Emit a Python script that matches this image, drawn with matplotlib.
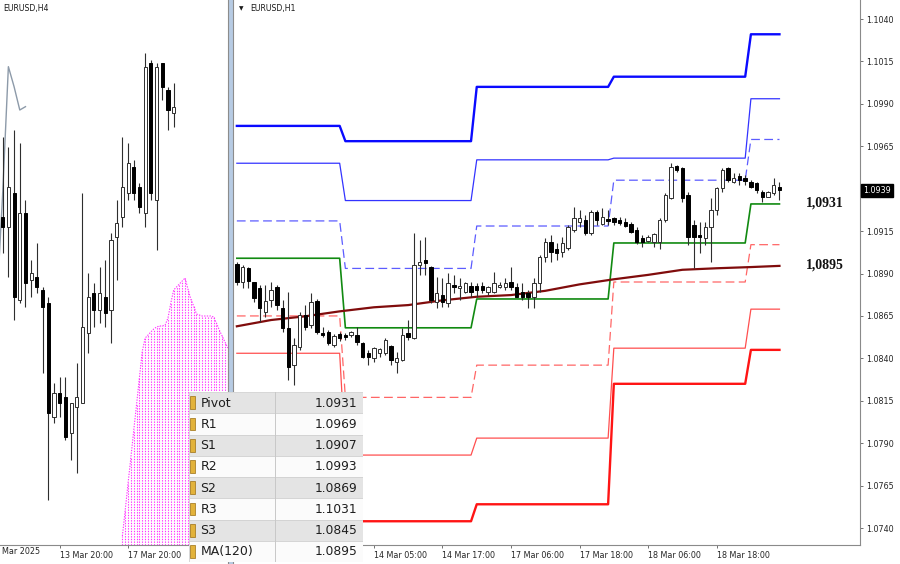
import numpy as np
import matplotlib
matplotlib.use("Agg")
from matplotlib import pyplot as plt
from matplotlib.patches import Rectangle

# ---------------- EURUSD H1 (right panel), bars 13 Mar 05:00 .. 19 Mar 05:00
h1_open = [1.08957, 1.08851, 1.08933, 1.08851, 1.08816, 1.08674, 1.08745, 1.08822, 1.08698, 1.08580,
           1.08362, 1.08468, 1.08657, 1.08598, 1.08739, 1.08551, 1.08557, 1.08480, 1.08545, 1.08539,
           1.08539, 1.08539, 1.08492, 1.08433, 1.08403, 1.08433, 1.08433, 1.08474, 1.08380, 1.08392,
           1.08551, 1.08521, 1.08951, 1.08981, 1.08939, 1.08733, 1.08774, 1.08727, 1.08833, 1.08816,
           1.08792, 1.08828, 1.08828, 1.08828, 1.08792, 1.08792, 1.08822, 1.08822, 1.08851, 1.08822,
           1.08792, 1.08786, 1.08763, 1.08845, 1.08998, 1.09087, 1.09046, 1.09028, 1.09051, 1.09157,
           1.09205, 1.09216, 1.09140, 1.09263, 1.09193, 1.09222, 1.09228, 1.09216, 1.09205, 1.09193,
           1.09157, 1.09110, 1.09092, 1.09087, 1.09087, 1.09216, 1.09346, 1.09534, 1.09523, 1.09363,
           1.09187, 1.09128, 1.09110, 1.09175, 1.09275, 1.09405, 1.09523, 1.09440, 1.09476, 1.09464,
           1.09440, 1.09434, 1.09381, 1.09352, 1.09375, 1.09411]
h1_high = [1.08969, 1.08951, 1.08939, 1.08851, 1.08833, 1.08833, 1.08851, 1.08833, 1.08745, 1.08792,
           1.08521, 1.08674, 1.08716, 1.08786, 1.08751, 1.08586, 1.08568, 1.08545, 1.08557, 1.08551,
           1.08563, 1.08586, 1.08498, 1.08450, 1.08468, 1.08462, 1.08521, 1.08480, 1.08439, 1.08580,
           1.08627, 1.09140, 1.09098, 1.09116, 1.08945, 1.08880, 1.08875, 1.08904, 1.08892, 1.08875,
           1.08851, 1.08851, 1.08845, 1.08851, 1.08828, 1.08910, 1.08851, 1.08875, 1.08939, 1.08845,
           1.08845, 1.08804, 1.08875, 1.09010, 1.09110, 1.09128, 1.09081, 1.09116, 1.09187, 1.09293,
           1.09275, 1.09246, 1.09275, 1.09275, 1.09287, 1.09275, 1.09234, 1.09234, 1.09228, 1.09205,
           1.09175, 1.09128, 1.09128, 1.09140, 1.09228, 1.09375, 1.09552, 1.09540, 1.09528, 1.09381,
           1.09216, 1.09204, 1.09204, 1.09346, 1.09411, 1.09523, 1.09528, 1.09493, 1.09493, 1.09481,
           1.09452, 1.09440, 1.09393, 1.09387, 1.09464, 1.09440]
h1_low = [1.08833, 1.08816, 1.08816, 1.08733, 1.08615, 1.08645, 1.08704, 1.08686, 1.08557, 1.08274,
          1.08244, 1.08450, 1.08568, 1.08580, 1.08545, 1.08527, 1.08480, 1.08468, 1.08504, 1.08510,
          1.08527, 1.08480, 1.08403, 1.08362, 1.08380, 1.08409, 1.08421, 1.08362, 1.08315, 1.08386,
          1.08510, 1.08515, 1.08892, 1.08892, 1.08727, 1.08698, 1.08704, 1.08704, 1.08786, 1.08745,
          1.08786, 1.08763, 1.08763, 1.08786, 1.08774, 1.08786, 1.08816, 1.08804, 1.08804, 1.08763,
          1.08745, 1.08698, 1.08698, 1.08792, 1.08969, 1.08969, 1.08981, 1.08998, 1.09040, 1.09145,
          1.09175, 1.09128, 1.09128, 1.09187, 1.09187, 1.09187, 1.09187, 1.09187, 1.09175, 1.09140,
          1.09075, 1.09057, 1.09087, 1.09057, 1.09046, 1.09205, 1.09340, 1.09499, 1.09322, 1.09069,
          1.08934, 1.09022, 1.09069, 1.08969, 1.09245, 1.09381, 1.09440, 1.09434, 1.09422, 1.09422,
          1.09405, 1.09375, 1.09322, 1.09352, 1.09363, 1.09333]
h1_close = [1.08851, 1.08939, 1.08857, 1.08757, 1.08698, 1.08739, 1.08804, 1.08716, 1.08580, 1.08350,
            1.08480, 1.08657, 1.08586, 1.08733, 1.08557, 1.08539, 1.08492, 1.08533, 1.08521, 1.08527,
            1.08557, 1.08498, 1.08409, 1.08409, 1.08462, 1.08456, 1.08510, 1.08392, 1.08403, 1.08539,
            1.08527, 1.08951, 1.08969, 1.08963, 1.08745, 1.08786, 1.08733, 1.08845, 1.08822, 1.08828,
            1.08845, 1.08792, 1.08804, 1.08804, 1.08822, 1.08845, 1.08833, 1.08845, 1.08822, 1.08763,
            1.08763, 1.08763, 1.08845, 1.08998, 1.09087, 1.09028, 1.09022, 1.09081, 1.09175, 1.09228,
            1.09228, 1.09140, 1.09263, 1.09216, 1.09234, 1.09210, 1.09205, 1.09199, 1.09181, 1.09145,
            1.09087, 1.09087, 1.09116, 1.09134, 1.09216, 1.09363, 1.09528, 1.09511, 1.09346, 1.09116,
            1.09116, 1.09116, 1.09175, 1.09275, 1.09405, 1.09511, 1.09452, 1.09464, 1.09452, 1.09446,
            1.09411, 1.09393, 1.09352, 1.09381, 1.09422, 1.09393]

# daily levels for 13, 14, 17, 18, 19 Mar and number of H1 bars in each day
day_bars = [19, 23, 24, 24, 6]
lvl_r3 = [1.0977, 1.0968, 1.1000, 1.1006, 1.1031]
lvl_r2 = [1.0955, 1.0933, 1.0957, 1.0958, 1.0993]
lvl_r1 = [1.0921, 1.0893, 1.0918, 1.0945, 1.0969]
lvl_pivot = [1.0899, 1.0858, 1.0875, 1.0908, 1.0931]
lvl_s1 = [1.0865, 1.0817, 1.0836, 1.0885, 1.0907]
lvl_s2 = [1.0843, 1.0783, 1.0793, 1.0846, 1.0869]
lvl_s3 = [1.0814, 1.0744, 1.0754, 1.0825, 1.0845]

ma_bar = [0, 6, 12, 18, 24, 30, 36, 42, 48, 54, 60, 66, 72, 78, 84, 90, 95]
ma120 = [1.08589, 1.08626, 1.08648, 1.08677, 1.08701, 1.08714, 1.08742, 1.08763, 1.08773,
         1.08798, 1.08836, 1.08866, 1.08892, 1.08922, 1.08931, 1.08938, 1.08945]

h1_ticks = [24, 36, 48, 60, 72, 84]
h1_tick_labels = ['14 Mar 05:00', '14 Mar 17:00', '17 Mar 06:00',
                  '17 Mar 18:00', '18 Mar 06:00', '18 Mar 18:00']
h1_yticks = [1.0740, 1.0765, 1.0790, 1.0815, 1.0840, 1.0865, 1.0890, 1.0915,
             1.0965, 1.0990, 1.1015, 1.1040]
last_price = 1.0939

# ---------------- EURUSD H4 (left panel)
h4_open = [1.0905, 1.0902, 1.0912, 1.0880, 1.0906, 1.0886, 1.0887, 1.0883, 1.0879, 1.0845,
           1.0852, 1.0851, 1.0840, 1.0848, 1.0849, 1.0870, 1.0882, 1.0877, 1.0881, 1.0877,
           1.0899, 1.0905, 1.0912, 1.0920, 1.0914, 1.0906, 1.0951, 1.0910, 1.0951, 1.0943, 1.0936]
h4_high = [1.0929, 1.0926, 1.0931, 1.0927, 1.0910, 1.0892, 1.0897, 1.0884, 1.0881, 1.0855,
           1.0857, 1.0857, 1.0849, 1.0861, 1.0912, 1.0888, 1.0885, 1.0890, 1.0892, 1.0900,
           1.0910, 1.0929, 1.0927, 1.0922, 1.0915, 1.0954, 1.0952, 1.0951, 1.0951, 1.0944, 1.0945]
h4_low = [1.0894, 1.0887, 1.0874, 1.0879, 1.0878, 1.0881, 1.0882, 1.0858, 1.0820, 1.0843,
          1.0845, 1.0838, 1.0832, 1.0828, 1.0849, 1.0864, 1.0872, 1.0873, 1.0872, 1.0867,
          1.0886, 1.0902, 1.0910, 1.0910, 1.0906, 1.0902, 1.0910, 1.0895, 1.0940, 1.0931, 1.0932]
h4_close = [1.0902, 1.0914, 1.0881, 1.0906, 1.0885, 1.0888, 1.0884, 1.0878, 1.0846, 1.0852,
            1.0849, 1.0839, 1.0849, 1.0851, 1.0872, 1.0881, 1.0877, 1.0882, 1.0876, 1.0898,
            1.0903, 1.0914, 1.0921, 1.0912, 1.0908, 1.0950, 1.0912, 1.0950, 1.0944, 1.0937, 1.0938]
h4_chikou = [1.0912, 1.0950, 1.0944, 1.0937, 1.0938]
h4_cloud_top = [1.08092, 1.0817, 1.08251, 1.08329, 1.0841, 1.08488, 1.08569, 1.08647, 1.08686,
                1.08695, 1.08704, 1.08713, 1.08719, 1.08722, 1.08722, 1.08725, 1.08746, 1.08791,
                1.0883, 1.08839, 1.08848, 1.08857, 1.08866, 1.08833, 1.08803, 1.08782, 1.08758,
                1.08755, 1.08752, 1.08752, 1.08752, 1.08752, 1.08749, 1.08731, 1.0871, 1.08692,
                1.08674, 1.08656]
h4_ticks = [10, 22]
h4_tick_labels = ['13 Mar 20:00', '17 Mar 20:00']

table_names = ['Pivot', 'R1', 'S1', 'R2', 'S2', 'R3', 'S3', 'MA(120)']
table_values = ['1.0931', '1.0969', '1.0907', '1.0993', '1.0869', '1.1031', '1.0845', '1.0895']

W, H = 900, 564
FONT = 'DejaVu Sans'
TXT = '#262626'


def draw_candles(ax, o, h, l, c, width, min_body):
    o, h, l, c = map(np.asarray, (o, h, l, c))
    x = np.arange(len(o))
    up = c >= o
    body = np.maximum(np.abs(c - o), min_body)
    ax.vlines(x, l, h, color='#2e2e2e', lw=0.8, zorder=4)
    ax.bar(x[up], body[up], bottom=o[up], width=width, color='white',
           edgecolor='#2e2e2e', lw=0.7, zorder=5)
    ax.bar(x[~up], body[~up], bottom=c[~up], width=width, color='black',
           edgecolor='black', lw=0.7, zorder=5)


fig = plt.figure(figsize=(W / 100, H / 100), dpi=100)
fig.patch.set_facecolor('white')

# ---------------- left panel (H4)
ax_l = fig.add_axes([0, 19 / H, 228 / W, 545 / H])
ax_l.set_xlim(-0.47, 39.53)
ax_l.set_ylim(1.08065, 1.0970)
cloud_pos = np.arange(21, 40, 0.5)
bottom_l = ax_l.get_ylim()[0]
ax_l.vlines(cloud_pos, bottom_l, h4_cloud_top, color='#ff33ff', lw=0.8,
            linestyles=[(0, (1.2, 1.2))], zorder=2)
ax_l.plot(cloud_pos, h4_cloud_top, color='#ff33ff', lw=0.8, ls=(0, (1.2, 1.2)), zorder=2)
ax_l.plot(np.arange(len(h4_chikou)), h4_chikou, color='#8d9aa9', lw=1.0, zorder=3)
ax_l.plot([-1, 0], [1.0880, h4_chikou[0]], color='#8d9aa9', lw=1.0, zorder=3)
draw_candles(ax_l, h4_open, h4_high, h4_low, h4_close, 0.55, 0.00003)
for s in ['top', 'left', 'right']:
    ax_l.spines[s].set_visible(False)
ax_l.spines['bottom'].set_color('#8a8a8a')
ax_l.spines['bottom'].set_linewidth(0.8)
ax_l.set_yticks([])
ax_l.set_xticks(h4_ticks, h4_tick_labels)
ax_l.tick_params(axis='x', direction='out', length=2.5, width=0.7, color='#707070',
                 pad=1.5, labelsize=5.8, labelcolor=TXT)
for lab in ax_l.get_xticklabels():
    lab.set_ha('left')
    lab.set_fontfamily(FONT)
ax_l.text(0.013, 0.985, 'EURUSD,H4', transform=ax_l.transAxes, fontsize=5.6,
          family=FONT, color='#1a1a1a', va='center', ha='left')
fig.text(2 / W, 12 / H, 'Mar 2025', fontsize=5.8, family=FONT, color=TXT,
         va='center', ha='left')

# separator between the two charts
fig.patches.append(Rectangle((227.5 / W, 0), 6 / W, 1, transform=fig.transFigure,
                             facecolor='#b7cbe3', edgecolor='none', zorder=1))
fig.add_artist(plt.Line2D([227.5 / W, 227.5 / W], [0, 1], color='#8c8c8c', lw=0.8))
fig.add_artist(plt.Line2D([233.5 / W, 233.5 / W], [0, 1], color='#8c8c8c', lw=0.8))

# ---------------- right panel (H1)
ax = fig.add_axes([234 / W, 19 / H, 626 / W, 545 / H])
ax.set_xlim(-0.5, 109.1)
ax.set_ylim(1.0730, 1.10512)
bars = np.arange(len(h1_open))
lines = [
    (lvl_r3, '#0a0aff', 1.7, '-'),
    (lvl_r2, '#3333ff', 0.9, '-'),
    (lvl_r1, '#5c5cff', 0.9, (0, (7, 3.5))),
    (lvl_pivot, '#118a11', 1.2, '-'),
    (lvl_s1, '#ff6666', 0.9, (0, (7, 3.5))),
    (lvl_s2, '#ff4f4f', 0.9, '-'),
    (lvl_s3, '#ff1414', 1.7, '-'),
]
for vals, col, lw, ls in lines:
    ax.plot(bars, np.repeat(vals, day_bars), color=col, lw=lw, ls=ls, zorder=2)
ax.plot(ma_bar, ma120, color='#800c0c', lw=1.6, zorder=3)
draw_candles(ax, h1_open, h1_high, h1_low, h1_close, 0.6, 0.00006)

for s in ['top', 'left']:
    ax.spines[s].set_visible(False)
for s in ['right', 'bottom']:
    ax.spines[s].set_color('#8a8a8a')
    ax.spines[s].set_linewidth(0.8)
ax.yaxis.tick_right()
ax.set_yticks(h1_yticks, [f'{v:.4f}' for v in h1_yticks])
ax.set_xticks(h1_ticks, h1_tick_labels)
ax.tick_params(axis='both', direction='out', length=2.5, width=0.7, color='#707070',
               labelsize=5.8, labelcolor=TXT)
ax.tick_params(axis='y', pad=1.8)
ax.tick_params(axis='x', pad=1.5)
for lab in ax.get_xticklabels():
    lab.set_ha('left')
for lab in ax.get_xticklabels() + ax.get_yticklabels():
    lab.set_fontfamily(FONT)

ax.text(1.0055, last_price, f'{last_price:.4f}', transform=ax.get_yaxis_transform(),
        fontsize=5.8, family=FONT, color='white', va='center', ha='left',
        bbox=dict(boxstyle='square,pad=0.25', facecolor='black', edgecolor='black'))

ax.text(0.008, 0.9835, '\u25bc', transform=ax.transAxes, fontsize=4.2, family=FONT,
        color='#1a1a1a', va='center', ha='left')
ax.text(0.026, 0.9835, 'EURUSD,H1', transform=ax.transAxes, fontsize=5.6, family=FONT,
        color='#1a1a1a', va='center', ha='left')

ax.text(99.6, lvl_pivot[-1] + 0.00006, '1,0931', fontsize=10, fontweight='bold',
        family='Liberation Serif', color='#111111', va='center', ha='left')
ax.text(99.6, ma120[-1] + 0.00008, '1,0895', fontsize=10, fontweight='bold',
        family='Liberation Serif', color='#111111', va='center', ha='left')

# ---------------- levels table
ax_t = fig.add_axes([189 / W, 2 / H, 174 / W, 170 / H])
ax_t.set_zorder(10)
ax_t.set_xlim(0, 1)
ax_t.set_ylim(len(table_names), 0)
ax_t.axis('off')
ax_t.add_patch(Rectangle((0, 0), 1, len(table_names), facecolor='white', edgecolor='none'))
for k, (name, val) in enumerate(zip(table_names, table_values)):
    shade = '#e4e4e4' if k % 2 == 0 else '#fbfbfb'
    ax_t.add_patch(Rectangle((0, k), 1, 1, facecolor=shade, edgecolor='#d2d2d2', lw=0.6))
    ax_t.add_patch(Rectangle((0.005, k + 0.2), 0.03, 0.6, facecolor='#e2b23a',
                             edgecolor='#9c6f12', lw=0.5))
    ax_t.text(0.066, k + 0.52, name, fontsize=9, family=FONT, color='#1e1e1e',
              va='center', ha='left')
    ax_t.text(0.97, k + 0.52, val, fontsize=8.8, family=FONT, color='#1e1e1e',
              va='center', ha='right')
ax_t.plot([0.497, 0.497], [0, len(table_names)], color='#c8c8c8', lw=0.7)

fig.savefig('out.png', dpi=100)
